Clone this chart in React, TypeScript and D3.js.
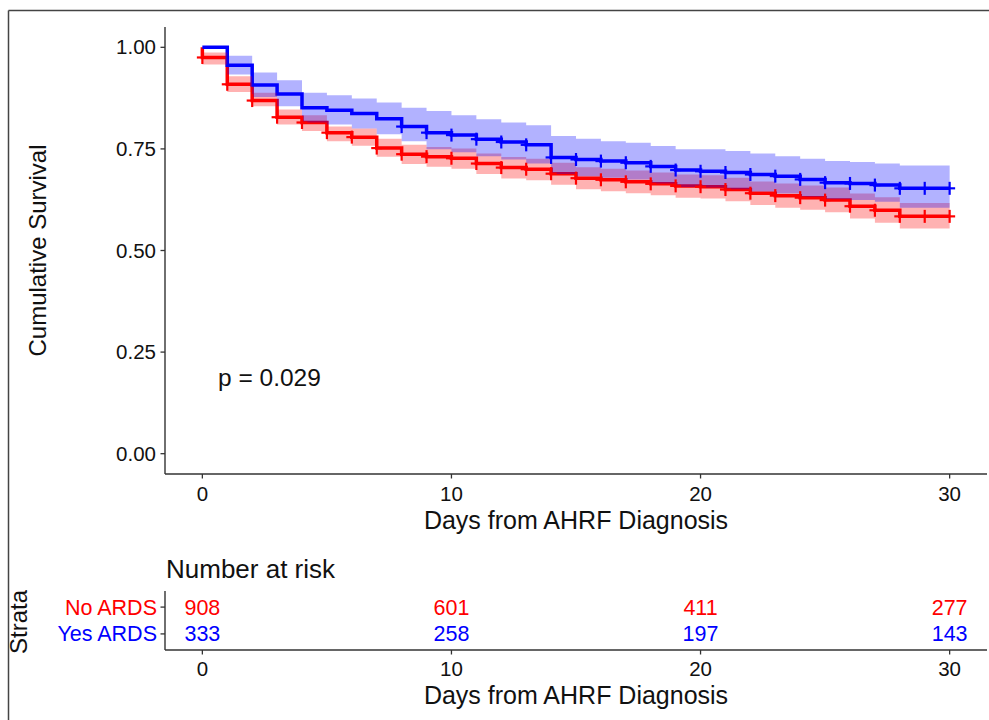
import React from 'react';
import * as d3 from 'd3';

// Kaplan-Meier estimates, one value per day (0..30)
const days = [0, 1, 2, 3, 4, 5, 6, 7, 8, 9, 10, 11, 12, 13, 14, 15, 16, 17, 18, 19, 20, 21, 22, 23, 24, 25, 26, 27, 28, 29, 30];

const noArdsSurv = [0.975, 0.909, 0.869, 0.828, 0.815, 0.790, 0.779, 0.752, 0.737, 0.731, 0.727, 0.714, 0.704, 0.700, 0.689, 0.678, 0.674, 0.669, 0.664, 0.659, 0.657, 0.650, 0.641, 0.635, 0.630, 0.624, 0.609, 0.599, 0.584, 0.584, 0.584];
const noArdsUpper = [0.987, 0.929, 0.888, 0.847, 0.833, 0.805, 0.800, 0.775, 0.760, 0.755, 0.751, 0.739, 0.730, 0.726, 0.716, 0.705, 0.701, 0.697, 0.692, 0.687, 0.685, 0.679, 0.670, 0.665, 0.660, 0.655, 0.640, 0.631, 0.617, 0.617, 0.617];
const noArdsLower = [0.958, 0.890, 0.855, 0.810, 0.794, 0.769, 0.758, 0.731, 0.713, 0.706, 0.701, 0.688, 0.677, 0.673, 0.662, 0.651, 0.646, 0.641, 0.636, 0.630, 0.628, 0.621, 0.612, 0.605, 0.600, 0.594, 0.579, 0.568, 0.554, 0.554, 0.554];

const yesArdsSurv = [1.000, 0.956, 0.907, 0.885, 0.851, 0.845, 0.837, 0.824, 0.805, 0.790, 0.784, 0.774, 0.767, 0.760, 0.729, 0.724, 0.720, 0.716, 0.707, 0.698, 0.695, 0.692, 0.687, 0.683, 0.675, 0.667, 0.665, 0.661, 0.653, 0.653, 0.653];
const yesArdsUpper = [1.000, 0.979, 0.938, 0.919, 0.888, 0.882, 0.874, 0.864, 0.851, 0.843, 0.833, 0.823, 0.815, 0.808, 0.782, 0.775, 0.769, 0.765, 0.757, 0.749, 0.749, 0.745, 0.739, 0.732, 0.726, 0.720, 0.718, 0.714, 0.709, 0.709, 0.709];
const yesArdsLower = [1.000, 0.933, 0.878, 0.855, 0.815, 0.810, 0.800, 0.786, 0.769, 0.749, 0.742, 0.732, 0.724, 0.714, 0.688, 0.683, 0.679, 0.675, 0.665, 0.656, 0.655, 0.651, 0.645, 0.640, 0.632, 0.626, 0.624, 0.620, 0.605, 0.605, 0.605];

// censoring times (days)
const noArdsCensor = [0, 1, 2, 3, 4, 5, 6, 7, 8, 9, 10, 11, 12, 13, 14, 15, 16, 17, 18, 19, 20, 21, 22, 23, 24, 25, 26, 27, 28, 29, 30];
const yesArdsCensor = [8, 9, 10, 11, 12, 13, 14, 15, 16, 17, 18, 19, 20, 21, 22, 23, 24, 25, 26, 27, 28, 29, 30];

// number at risk table
const riskTimes = [0, 10, 20, 30];
const noArdsRisk = [908, 601, 411, 277];
const yesArdsRisk = [333, 258, 197, 143];
const strataNames = ['No ARDS', 'Yes ARDS'];

const xTicks = [0, 10, 20, 30];
const yTicks = [0, 0.25, 0.5, 0.75, 1];

const RED = '#FF0000';
const BLUE = '#0000FF';
const FONT = '"Liberation Sans", Arial, sans-serif';
const AXIS = '#333333';
const INK = '#111111';

const W = 989;
const H = 720;

const App = () => {
  const x = d3.scaleLinear().domain([-1.5, 31.5]).range([165, 987]);
  const y = d3.scaleLinear().domain([-0.05, 1.05]).range([474, 27]);
  const rowY = d3.scalePoint<string>().domain(strataNames).range([591, 650]).padding(0.6);

  const band = (lo: number[], hi: number[]) =>
    d3.area<number>()
      .x(d => x(d))
      .y0((d, i) => y(lo[i]))
      .y1((d, i) => y(hi[i]))
      .curve(d3.curveStepAfter)(days) || '';

  const step = (s: number[], start?: number) => {
    const pts: [number, number][] = days.map((d, i) => [d, s[i]]);
    if (start !== undefined) pts.unshift([0, start]);
    return d3.line<[number, number]>()
      .x(d => x(d[0]))
      .y(d => y(d[1]))
      .curve(d3.curveStepAfter)(pts) || '';
  };

  const censorMarks = (times: number[], s: number[], color: string) =>
    times.map(t => {
      const cx = x(t);
      const cy = y(s[days.indexOf(t)]);
      return (
        <g key={t} stroke={color} strokeWidth={2.2}>
          <line x1={cx - 5.5} x2={cx + 5.5} y1={cy} y2={cy} />
          <line x1={cx} x2={cx} y1={cy - 6.5} y2={cy + 6.5} />
        </g>
      );
    });

  const fmt = d3.format('.2f');

  return (
    <svg width={W} height={H} style={{ position: 'absolute', left: 0, top: 0, background: '#fff' }} fontFamily={FONT}>
      <rect x={0} y={0} width={W} height={H} fill="#fff" />
      {/* frame */}
      <line x1={8.5} x2={W} y1={10.5} y2={10.5} stroke="#444" strokeWidth={1.5} />
      <line x1={8.5} x2={8.5} y1={10.5} y2={H} stroke="#444" strokeWidth={1.5} />

      {/* survival curves: lines, then ribbons on top, then censor marks */}
      <path d={step(noArdsSurv, 1)} fill="none" stroke={RED} strokeWidth={3.5} />
      <path d={step(yesArdsSurv)} fill="none" stroke={BLUE} strokeWidth={3.5} />
      <path d={band(noArdsLower, noArdsUpper)} fill={RED} fillOpacity={0.3} />
      <path d={band(yesArdsLower, yesArdsUpper)} fill={BLUE} fillOpacity={0.3} />
      {censorMarks(noArdsCensor, noArdsSurv, RED)}
      {censorMarks(yesArdsCensor, yesArdsSurv, BLUE)}

      {/* axes */}
      <line x1={165} x2={165} y1={27} y2={474} stroke={AXIS} strokeWidth={1.4} />
      <line x1={165} x2={987} y1={474} y2={474} stroke={AXIS} strokeWidth={1.4} />
      {yTicks.map(t => (
        <g key={t}>
          <line x1={160.5} x2={165} y1={y(t)} y2={y(t)} stroke={AXIS} strokeWidth={1.3} />
          <text x={156} y={y(t) + 7} textAnchor="end" fontSize={20.5} fill={INK}>{fmt(t)}</text>
        </g>
      ))}
      {xTicks.map(t => (
        <g key={t}>
          <line x1={x(t)} x2={x(t)} y1={474} y2={478.5} stroke={AXIS} strokeWidth={1.3} />
          <text x={x(t)} y={501} textAnchor="middle" fontSize={20.5} fill={INK}>{t}</text>
        </g>
      ))}
      <text x={x(15)} y={529} textAnchor="middle" fontSize={25} fill={INK}>Days from AHRF Diagnosis</text>
      <text transform={`translate(46,${y(0.5)}) rotate(-90)`} textAnchor="middle" fontSize={24} fill={INK}>Cumulative Survival</text>
      <text x={218} y={386} fontSize={24.5} fill={INK}>p = 0.029</text>

      {/* risk table */}
      <text x={166} y={578} fontSize={26} fill={INK}>Number at risk</text>
      <line x1={165} x2={165} y1={591} y2={650} stroke={AXIS} strokeWidth={1.4} />
      <line x1={165} x2={987} y1={650} y2={650} stroke={AXIS} strokeWidth={1.4} />
      {strataNames.map((name, i) => {
        const ry = rowY(name) || 0;
        const color = i === 0 ? RED : BLUE;
        const counts = i === 0 ? noArdsRisk : yesArdsRisk;
        return (
          <g key={name}>
            <line x1={160.5} x2={165} y1={ry} y2={ry} stroke={AXIS} strokeWidth={1.3} />
            <text x={157} y={ry + 7.5} textAnchor="end" fontSize={21.5} fill={color}>{name}</text>
            {riskTimes.map((t, j) => (
              <text key={t} x={x(t)} y={ry + 7.5} textAnchor="middle" fontSize={21.5} fill={color}>{counts[j]}</text>
            ))}
          </g>
        );
      })}
      {xTicks.map(t => (
        <g key={t}>
          <line x1={x(t)} x2={x(t)} y1={650} y2={654.5} stroke={AXIS} strokeWidth={1.3} />
          <text x={x(t)} y={676} textAnchor="middle" fontSize={20.5} fill={INK}>{t}</text>
        </g>
      ))}
      <text x={x(15)} y={704} textAnchor="middle" fontSize={25} fill={INK}>Days from AHRF Diagnosis</text>
      <text transform="translate(27,622) rotate(-90)" textAnchor="middle" fontSize={24} fill={INK}>Strata</text>
    </svg>
  );
};

export default App;
